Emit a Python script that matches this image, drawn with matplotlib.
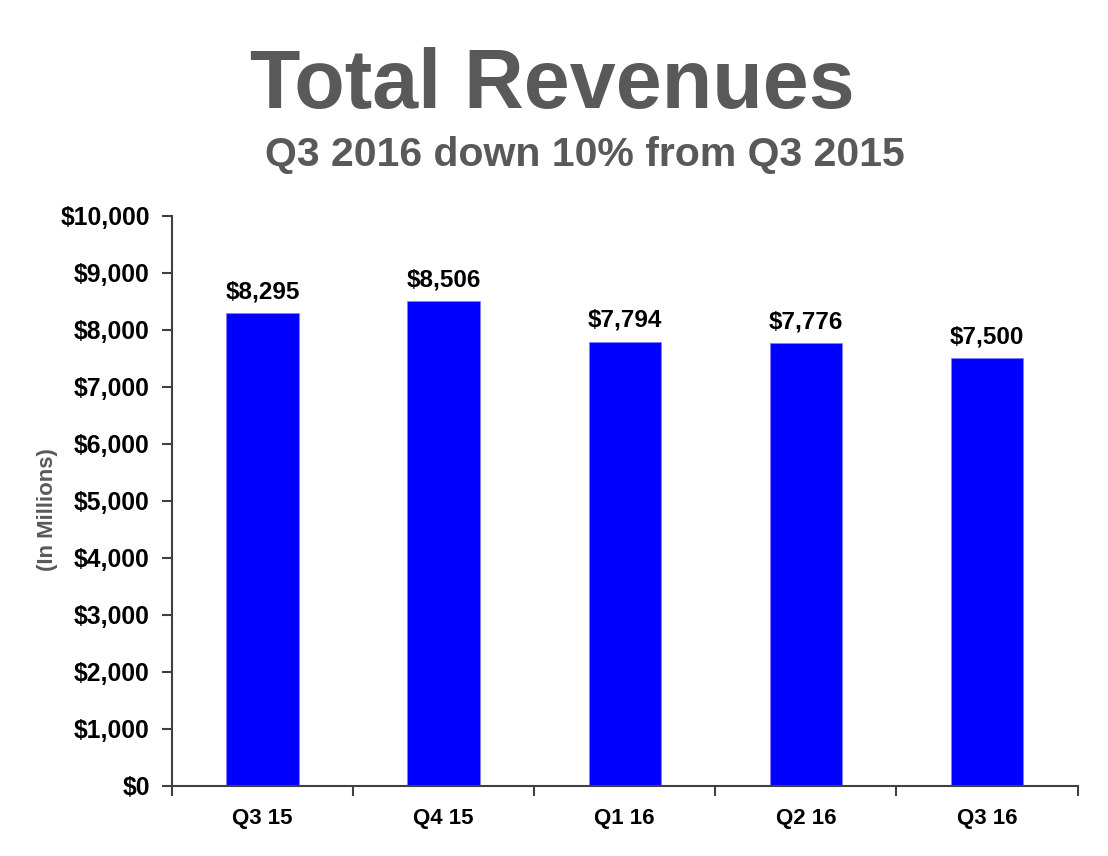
import numpy as np
import matplotlib
matplotlib.use("Agg")
import matplotlib.pyplot as plt
from matplotlib.ticker import FuncFormatter, FixedLocator

# -----------------------------
# Data
# -----------------------------

quarters = ["Q3 15", "Q4 15", "Q1 16", "Q2 16", "Q3 16"]
revenues = [8295, 8506, 7794, 7776, 7500]
y_ticks = [0, 1000, 2000, 3000, 4000, 5000, 6000, 7000, 8000, 9000, 10000]

plt.rcParams["font.family"] = ["Liberation Sans", "DejaVu Sans"]
plt.rcParams["font.weight"] = "bold"

# -----------------------------
# Figure
# -----------------------------

fig = plt.figure(figsize=(11.08, 8.56), dpi=100)
ax = fig.add_axes([0.1552, 0.0818, 0.8173, 0.6659])

x = np.arange(len(quarters))
ax.bar(x, revenues, width=0.4, color="#0000FF", edgecolor="#7f7fff", linewidth=0.6, zorder=2)

for xi, val in zip(x, revenues):
    ax.annotate(f"${val:,}", (xi, val), xytext=(0, 7), textcoords="offset points",
                ha="center", va="bottom", fontsize=17.5, fontweight="bold", color="black")

ax.set_xlim(-0.5, len(quarters) - 0.5)
ax.set_ylim(0, 10000)
ax.set_yticks(y_ticks)
ax.yaxis.set_major_formatter(FuncFormatter(lambda v, p: f"${int(v):,}"))

ax.set_xticks(x)
ax.set_xticklabels(quarters)
ax.xaxis.set_minor_locator(FixedLocator(np.arange(-0.5, len(quarters), 1.0)))

ax.tick_params(axis="y", direction="out", length=7, width=1.5, color="#404040",
               labelsize=17.8, pad=9)
ax.tick_params(axis="x", which="major", length=0, labelsize=16, pad=16)
ax.tick_params(axis="x", which="minor", direction="out", length=7, width=1.5, color="#404040")
for lab in ax.get_xticklabels() + ax.get_yticklabels():
    lab.set_fontweight("bold")

for side in ["top", "right"]:
    ax.spines[side].set_visible(False)
for side in ["left", "bottom"]:
    ax.spines[side].set_color("#404040")
    ax.spines[side].set_linewidth(1.5)

fig.text(48 / 1108, 1 - 510 / 856, "(In Millions)", rotation=90, ha="center", va="center",
         fontsize=16, fontweight="bold", color="#595959")

# -----------------------------
# Titles
# -----------------------------

fig.text(552 / 1108, 1 - 108 / 856, "Total Revenues", ha="center", va="baseline",
         fontsize=59.5, fontweight="bold", color="#595959")
fig.text(585 / 1108, 1 - 166 / 856, "Q3 2016 down 10% from Q3 2015", ha="center", va="baseline",
         fontsize=29.5, fontweight="bold", color="#595959")

fig.savefig("out.png", dpi=100)
